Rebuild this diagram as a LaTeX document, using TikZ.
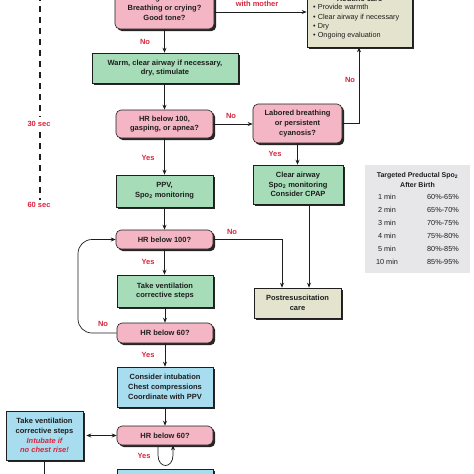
\documentclass[tikz,border=0pt]{standalone}
\usepackage{fontspec}
\setmainfont{Liberation Sans}
\usetikzlibrary{shadows,arrows.meta}
\definecolor{pinkf}{HTML}{F4B6C4}
\definecolor{greenf}{HTML}{A6DCB8}
\definecolor{bluef}{HTML}{A8DCEF}
\definecolor{beigef}{HTML}{E4E4CE}
\definecolor{tablef}{HTML}{E7E7EA}
\definecolor{redc}{HTML}{D7263D}
\definecolor{inkc}{HTML}{1E1E1E}
\tikzset{
  base/.style={draw=inkc, line width=0.6pt, align=center, inner sep=1pt,
    font=\fontsize{7.5}{9.7}\selectfont\bfseries, text=inkc,
    drop shadow={shadow xshift=2.2pt, shadow yshift=-2.2pt, fill=black!85, opacity=1}},
  pinkbox/.style={base, fill=pinkf, rounded corners=5pt},
  greenbox/.style={base, fill=greenf},
  bluebox/.style={base, fill=bluef},
  beigebox/.style={base, fill=beigef},
  sz/.style 2 args={minimum width=#1pt, minimum height=#2pt},
  lbl/.style={text=redc, font=\fontsize{7.5}{9.7}\selectfont\bfseries, inner sep=0pt, align=center},
  plain/.style={text=inkc, font=\fontsize{7.3}{9.4}\selectfont, inner sep=0pt},
  arr/.style={draw=inkc, line width=0.7pt, -{Stealth[length=5pt,width=4pt]}},
  darr/.style={draw=inkc, line width=0.7pt, {Stealth[length=5pt,width=4pt]}-{Stealth[length=5pt,width=4pt]}},
}
\begin{document}
\begin{tikzpicture}[x=1pt,y=-1pt]
\useasboundingbox (0,0) rectangle (474,474);
\clip (0,0) rectangle (474,474);
\fill[white] (0,0) rectangle (474,474);

% timeline
\coordinate (t0) at (40,-5);
\coordinate (t1) at (40,117);
\coordinate (t2) at (40,132);
\coordinate (t3) at (40,200);
\draw[inkc, line width=1.2pt, dash pattern=on 6pt off 5pt] (t0) -- (t1);
\draw[inkc, line width=1.2pt, dash pattern=on 6pt off 5pt] (t2) -- (t3);
\node[lbl] (s30) at (39,124) {30 sec};
\node[lbl] (s60) at (39,205) {60 sec};

% boxes
\node[pinkbox, sz={99}{42}] (b1) at (164.5,8) {Term gestation?\\Breathing or crying?\\Good tone?};
\node[beigebox, sz={105}{59}] (rc) at (359.5,17.5) {};
\node[lbl, text=inkc] (rct) at (359.5,-1) {Routine care};
\node[plain, anchor=west, align=left] (rcb) at (313,22) {\textbullet\ Provide warmth\\\textbullet\ Clear airway if necessary\\\textbullet\ Dry\\\textbullet\ Ongoing evaluation};

\node[greenbox, sz={146}{30}] (b2) at (165,68) {Warm, clear airway if necessary,\\dry, stimulate};
\node[pinkbox, sz={97}{28}] (b3) at (164.5,124) {HR below 100,\\gasping, or apnea?};
\node[pinkbox, sz={89}{39}] (lb) at (297.5,123.5) {Labored breathing\\or persistent\\cyanosis?};
\node[greenbox, sz={90}{39}] (ca) at (298,184.5) {Clear airway\\Spo\textsubscript{2} monitoring\\Consider CPAP};
\node[greenbox, sz={97}{32}] (ppv) at (164.5,191) {PPV,\\Spo\textsubscript{2} monitoring};
\node[pinkbox, sz={97}{19}] (h100) at (164.5,239.5) {HR below 100?};
\node[greenbox, sz={96}{32}] (tv) at (165,291) {Take ventilation\\corrective steps};
\node[pinkbox, sz={96}{20}] (h60) at (165,333) {HR below 60?};
\node[bluebox, sz={96}{40}] (ci) at (165,387) {Consider intubation\\Chest compressions\\Coordinate with PPV};
\node[pinkbox, sz={96}{19}] (h60b) at (165,435.5) {HR below 60?};
\node[bluebox, sz={77}{49}] (lt) at (44.5,435.5) {Take ventilation\\corrective steps\\{\color{redc}\itshape Intubate if}\\{\color{redc}\itshape no chest rise!}};
\node[bluebox, sz={96}{42}] (bb) at (165,490) {};
\node[beigebox, sz={87}{30}] (pr) at (297.5,303) {Postresuscitation\\care};

% table
\node[fill=tablef, sz={105}{108}, inner sep=0pt] (tb) at (417.5,219) {};
\node[lbl, text=inkc, font=\fontsize{7}{10}\selectfont\bfseries] (tbt) at (417.5,180) {Targeted Preductal Spo\textsubscript{2}\\After Birth};
\node[plain] (r1a) at (387,197) {1 min};   \node[plain] (r1b) at (443,197) {60\%-65\%};
\node[plain] (r2a) at (387,210) {2 min};   \node[plain] (r2b) at (443,210) {65\%-70\%};
\node[plain] (r3a) at (387,223) {3 min};   \node[plain] (r3b) at (443,223) {70\%-75\%};
\node[plain] (r4a) at (387,236) {4 min};   \node[plain] (r4b) at (443,236) {75\%-80\%};
\node[plain] (r5a) at (387,249) {5 min};   \node[plain] (r5b) at (443,249) {80\%-85\%};
\node[plain] (r6a) at (387,262) {10 min};  \node[plain] (r6b) at (443,262) {85\%-95\%};

% connectors
\draw[arr] (b1.east |- 0,12) -- (rc.west |- 0,12);
\node[lbl] (lyes1) at (257,3.5) {with mother};
\draw[arr] (b1.south) -- (b1.south |- b2.north);
\node[lbl] (lno1) at (145,42) {No};
\draw[arr] (b2.south -| b3.north) -- (b3.north);
\draw[arr] (b3.east) -- (lb.west |- b3.east);
\node[lbl] (lno2) at (231,116) {No};
\draw[arr] (lb.east) -| (rc.south -| 359,0);
\node[lbl] (lno3) at (350,80) {No};
\draw[arr] (lb.south) -- (lb.south |- ca.north);
\node[lbl] (lyes2) at (275,154) {Yes};
\draw[arr] (b3.south) -- (b3.south |- ppv.north);
\node[lbl] (lyes3) at (148,158) {Yes};
\draw[arr] (ppv.south) -- (ppv.south |- h100.north);
\draw[arr] (h100.east) -| (pr.north -| 282,0);
\node[lbl] (lno4) at (232,232) {No};
\draw[arr] (ca.south -| 309,0) -- (pr.north -| 309,0);
\draw[arr] (h100.south) -- (h100.south |- tv.north);
\node[lbl] (lyes4) at (148,262) {Yes};
\draw[arr] (tv.south) -- (h60.north);
\draw[arr, rounded corners=14pt] (h60.west) -| (78,290) |- (h100.west);
\node[lbl] (lno5) at (103,324) {No};
\draw[arr] (h60.south) -- (ci.north);
\node[lbl] (lyes5) at (148,355) {Yes};
\draw[arr] (ci.south) -- (h60b.north);
\draw[darr, shorten <=3pt] (lt.east |- h60b.west) -- (h60b.west);
\coordinate (ltend) at (44.5,492);
\draw[arr] (lt.south) -- (ltend);
\draw[arr] (h60b.south -| 158,0) -- (158,455) .. controls (158,469) and (173,469) .. (173,455) -- (h60b.south -| 173,0);
\node[lbl] (lyes6) at (144,456) {Yes};
\end{tikzpicture}
\end{document}
